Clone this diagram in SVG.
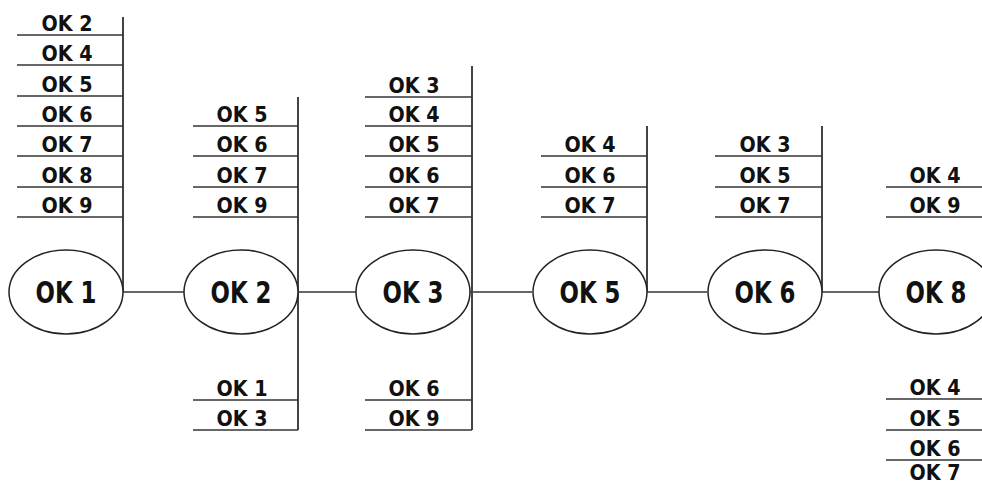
<svg xmlns="http://www.w3.org/2000/svg" width="982" height="486" viewBox="0 0 982 486">
<style>
.bg{fill:#ffffff}
.node{fill:#ffffff;stroke:#222;stroke-width:1.5}
.nl{font-family:"DejaVu Sans Condensed","DejaVu Sans",sans-serif;font-weight:bold;font-size:31px;fill:#111;text-anchor:middle}
.sl{font-family:"DejaVu Sans Condensed","DejaVu Sans",sans-serif;font-weight:bold;font-size:21px;fill:#111;text-anchor:middle}
.rule{stroke:#333;stroke-width:1.6;fill:none}
.bus{stroke:#444;stroke-width:2;fill:none}
.link{stroke:#333;stroke-width:1.6;fill:none}
</style>
<rect class="bg" x="0" y="0" width="982" height="486"/>

<g id="connectors">
  <line class="link" x1="123" y1="292" x2="184" y2="292"/>
  <line class="link" x1="298" y1="292" x2="356" y2="292"/>
  <line class="link" x1="470" y1="292" x2="532" y2="292"/>
  <line class="link" x1="647" y1="292" x2="707" y2="292"/>
  <line class="link" x1="822" y1="292" x2="879" y2="292"/>
  <line class="bus" x1="123" y1="17" x2="123" y2="292"/>
  <line class="bus" x1="298" y1="97" x2="298" y2="430"/>
  <line class="bus" x1="472" y1="66" x2="472" y2="430"/>
  <line class="bus" x1="647" y1="126" x2="647" y2="292"/>
  <line class="bus" x1="822" y1="126" x2="822" y2="292"/>
</g>

<g id="node-ok1">
  <ellipse class="node" cx="66" cy="292" rx="57" ry="42"/>
  <text class="nl" x="66" y="303" textLength="61" lengthAdjust="spacingAndGlyphs">OK 1</text>
</g>
<g id="node-ok2">
  <ellipse class="node" cx="241" cy="292" rx="57" ry="42"/>
  <text class="nl" x="241" y="303" textLength="61" lengthAdjust="spacingAndGlyphs">OK 2</text>
</g>
<g id="node-ok3">
  <ellipse class="node" cx="413" cy="292" rx="57" ry="42"/>
  <text class="nl" x="413" y="303" textLength="61" lengthAdjust="spacingAndGlyphs">OK 3</text>
</g>
<g id="node-ok5">
  <ellipse class="node" cx="590" cy="292" rx="57" ry="42"/>
  <text class="nl" x="590" y="303" textLength="61" lengthAdjust="spacingAndGlyphs">OK 5</text>
</g>
<g id="node-ok6">
  <ellipse class="node" cx="765" cy="292" rx="57" ry="42"/>
  <text class="nl" x="765" y="303" textLength="61" lengthAdjust="spacingAndGlyphs">OK 6</text>
</g>
<g id="node-ok8">
  <ellipse class="node" cx="936" cy="292" rx="57" ry="42"/>
  <text class="nl" x="936" y="303" textLength="61" lengthAdjust="spacingAndGlyphs">OK 8</text>
</g>

<g id="list-ok1-top">
  <line class="rule" x1="17" y1="35" x2="123" y2="35"/>
  <line class="rule" x1="17" y1="65" x2="123" y2="65"/>
  <line class="rule" x1="17" y1="96" x2="123" y2="96"/>
  <line class="rule" x1="17" y1="126" x2="123" y2="126"/>
  <line class="rule" x1="17" y1="156" x2="123" y2="156"/>
  <line class="rule" x1="17" y1="187" x2="123" y2="187"/>
  <line class="rule" x1="17" y1="217" x2="123" y2="217"/>
  <text class="sl" x="67" y="31" textLength="51" lengthAdjust="spacingAndGlyphs">OK 2</text>
  <text class="sl" x="67" y="61" textLength="51" lengthAdjust="spacingAndGlyphs">OK 4</text>
  <text class="sl" x="67" y="92" textLength="51" lengthAdjust="spacingAndGlyphs">OK 5</text>
  <text class="sl" x="67" y="122" textLength="51" lengthAdjust="spacingAndGlyphs">OK 6</text>
  <text class="sl" x="67" y="152" textLength="51" lengthAdjust="spacingAndGlyphs">OK 7</text>
  <text class="sl" x="67" y="183" textLength="51" lengthAdjust="spacingAndGlyphs">OK 8</text>
  <text class="sl" x="67" y="213" textLength="51" lengthAdjust="spacingAndGlyphs">OK 9</text>
</g>

<g id="list-ok2-top">
  <line class="rule" x1="193" y1="126" x2="298" y2="126"/>
  <line class="rule" x1="193" y1="156" x2="298" y2="156"/>
  <line class="rule" x1="193" y1="187" x2="298" y2="187"/>
  <line class="rule" x1="193" y1="217" x2="298" y2="217"/>
  <text class="sl" x="242" y="122" textLength="51" lengthAdjust="spacingAndGlyphs">OK 5</text>
  <text class="sl" x="242" y="152" textLength="51" lengthAdjust="spacingAndGlyphs">OK 6</text>
  <text class="sl" x="242" y="183" textLength="51" lengthAdjust="spacingAndGlyphs">OK 7</text>
  <text class="sl" x="242" y="213" textLength="51" lengthAdjust="spacingAndGlyphs">OK 9</text>
</g>
<g id="list-ok2-bottom">
  <line class="rule" x1="193" y1="400" x2="298" y2="400"/>
  <line class="rule" x1="193" y1="430" x2="298" y2="430"/>
  <text class="sl" x="242" y="396" textLength="51" lengthAdjust="spacingAndGlyphs">OK 1</text>
  <text class="sl" x="242" y="426" textLength="51" lengthAdjust="spacingAndGlyphs">OK 3</text>
</g>

<g id="list-ok3-top">
  <line class="rule" x1="365" y1="97" x2="472" y2="97"/>
  <line class="rule" x1="365" y1="126" x2="472" y2="126"/>
  <line class="rule" x1="365" y1="156" x2="472" y2="156"/>
  <line class="rule" x1="365" y1="187" x2="472" y2="187"/>
  <line class="rule" x1="365" y1="217" x2="472" y2="217"/>
  <text class="sl" x="414" y="93" textLength="51" lengthAdjust="spacingAndGlyphs">OK 3</text>
  <text class="sl" x="414" y="122" textLength="51" lengthAdjust="spacingAndGlyphs">OK 4</text>
  <text class="sl" x="414" y="152" textLength="51" lengthAdjust="spacingAndGlyphs">OK 5</text>
  <text class="sl" x="414" y="183" textLength="51" lengthAdjust="spacingAndGlyphs">OK 6</text>
  <text class="sl" x="414" y="213" textLength="51" lengthAdjust="spacingAndGlyphs">OK 7</text>
</g>
<g id="list-ok3-bottom">
  <line class="rule" x1="365" y1="400" x2="472" y2="400"/>
  <line class="rule" x1="365" y1="430" x2="472" y2="430"/>
  <text class="sl" x="414" y="396" textLength="51" lengthAdjust="spacingAndGlyphs">OK 6</text>
  <text class="sl" x="414" y="426" textLength="51" lengthAdjust="spacingAndGlyphs">OK 9</text>
</g>

<g id="list-ok5-top">
  <line class="rule" x1="541" y1="156" x2="647" y2="156"/>
  <line class="rule" x1="541" y1="187" x2="647" y2="187"/>
  <line class="rule" x1="541" y1="217" x2="647" y2="217"/>
  <text class="sl" x="590" y="152" textLength="51" lengthAdjust="spacingAndGlyphs">OK 4</text>
  <text class="sl" x="590" y="183" textLength="51" lengthAdjust="spacingAndGlyphs">OK 6</text>
  <text class="sl" x="590" y="213" textLength="51" lengthAdjust="spacingAndGlyphs">OK 7</text>
</g>

<g id="list-ok6-top">
  <line class="rule" x1="715" y1="156" x2="822" y2="156"/>
  <line class="rule" x1="715" y1="187" x2="822" y2="187"/>
  <line class="rule" x1="715" y1="217" x2="822" y2="217"/>
  <text class="sl" x="765" y="152" textLength="51" lengthAdjust="spacingAndGlyphs">OK 3</text>
  <text class="sl" x="765" y="183" textLength="51" lengthAdjust="spacingAndGlyphs">OK 5</text>
  <text class="sl" x="765" y="213" textLength="51" lengthAdjust="spacingAndGlyphs">OK 7</text>
</g>

<g id="list-ok8-top">
  <line class="rule" x1="886" y1="187" x2="982" y2="187"/>
  <line class="rule" x1="886" y1="217" x2="982" y2="217"/>
  <text class="sl" x="935" y="183" textLength="51" lengthAdjust="spacingAndGlyphs">OK 4</text>
  <text class="sl" x="935" y="213" textLength="51" lengthAdjust="spacingAndGlyphs">OK 9</text>
</g>
<g id="list-ok8-bottom">
  <line class="rule" x1="886" y1="399" x2="982" y2="399"/>
  <line class="rule" x1="886" y1="430" x2="982" y2="430"/>
  <line class="rule" x1="886" y1="460" x2="982" y2="460"/>
  <text class="sl" x="935" y="395" textLength="51" lengthAdjust="spacingAndGlyphs">OK 4</text>
  <text class="sl" x="935" y="426" textLength="51" lengthAdjust="spacingAndGlyphs">OK 5</text>
  <text class="sl" x="935" y="456" textLength="51" lengthAdjust="spacingAndGlyphs">OK 6</text>
  <text class="sl" x="935" y="480" textLength="51" lengthAdjust="spacingAndGlyphs">OK 7</text>
</g>
</svg>
